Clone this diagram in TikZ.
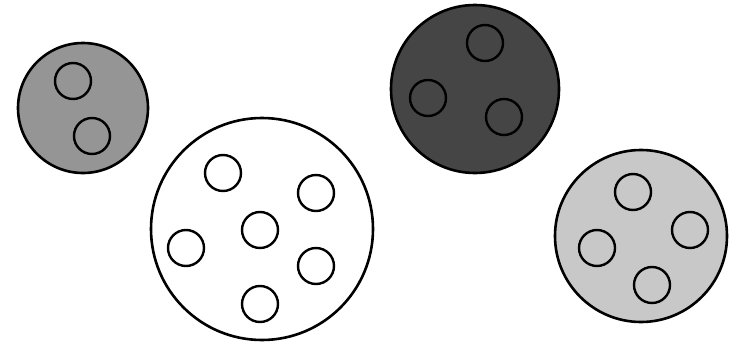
\documentclass[tikz,border=0pt]{standalone}
\begin{document}
\begin{tikzpicture}[x=1pt,y=-1pt,
  cell/.style={draw=black,line width=2.6pt},
  dot/.style={draw=black,line width=2.4pt,circle,minimum size=36pt,inner sep=0pt}]
\definecolor{gmid}{HTML}{959595}
\definecolor{gdark}{HTML}{454545}
\definecolor{glight}{HTML}{C8C8C8}
\useasboundingbox (0,0) rectangle (739,348);
% cell 1
\node[cell,circle,fill=gmid,minimum size=130pt,inner sep=0pt] (c1) at (83,108) {};
\node[dot,fill=gmid] (c1a) at (73,81) {};
\node[dot,fill=gmid] (c1b) at (92,136) {};
% cell 2
\node[cell,circle,fill=white,minimum size=222pt,inner sep=0pt] (c2) at (262,229) {};
\node[dot,fill=white] (c2a) at (223,173) {};
\node[dot,fill=white] (c2b) at (316,193) {};
\node[dot,fill=white] (c2c) at (260,230) {};
\node[dot,fill=white] (c2d) at (186,248) {};
\node[dot,fill=white] (c2e) at (316,266) {};
\node[dot,fill=white] (c2f) at (260,304) {};
% cell 3
\node[cell,circle,fill=gdark,minimum size=168pt,inner sep=0pt] (c3) at (475,89) {};
\node[dot,fill=gdark] (c3a) at (485,43) {};
\node[dot,fill=gdark] (c3b) at (428,98) {};
\node[dot,fill=gdark] (c3c) at (504,117) {};
% cell 4
\node[cell,circle,fill=glight,minimum size=172pt,inner sep=0pt] (c4) at (641,236) {};
\node[dot,fill=glight] (c4a) at (633,192) {};
\node[dot,fill=glight] (c4b) at (690,230) {};
\node[dot,fill=glight] (c4c) at (597,248) {};
\node[dot,fill=glight] (c4d) at (652,285) {};
\end{tikzpicture}
\end{document}
